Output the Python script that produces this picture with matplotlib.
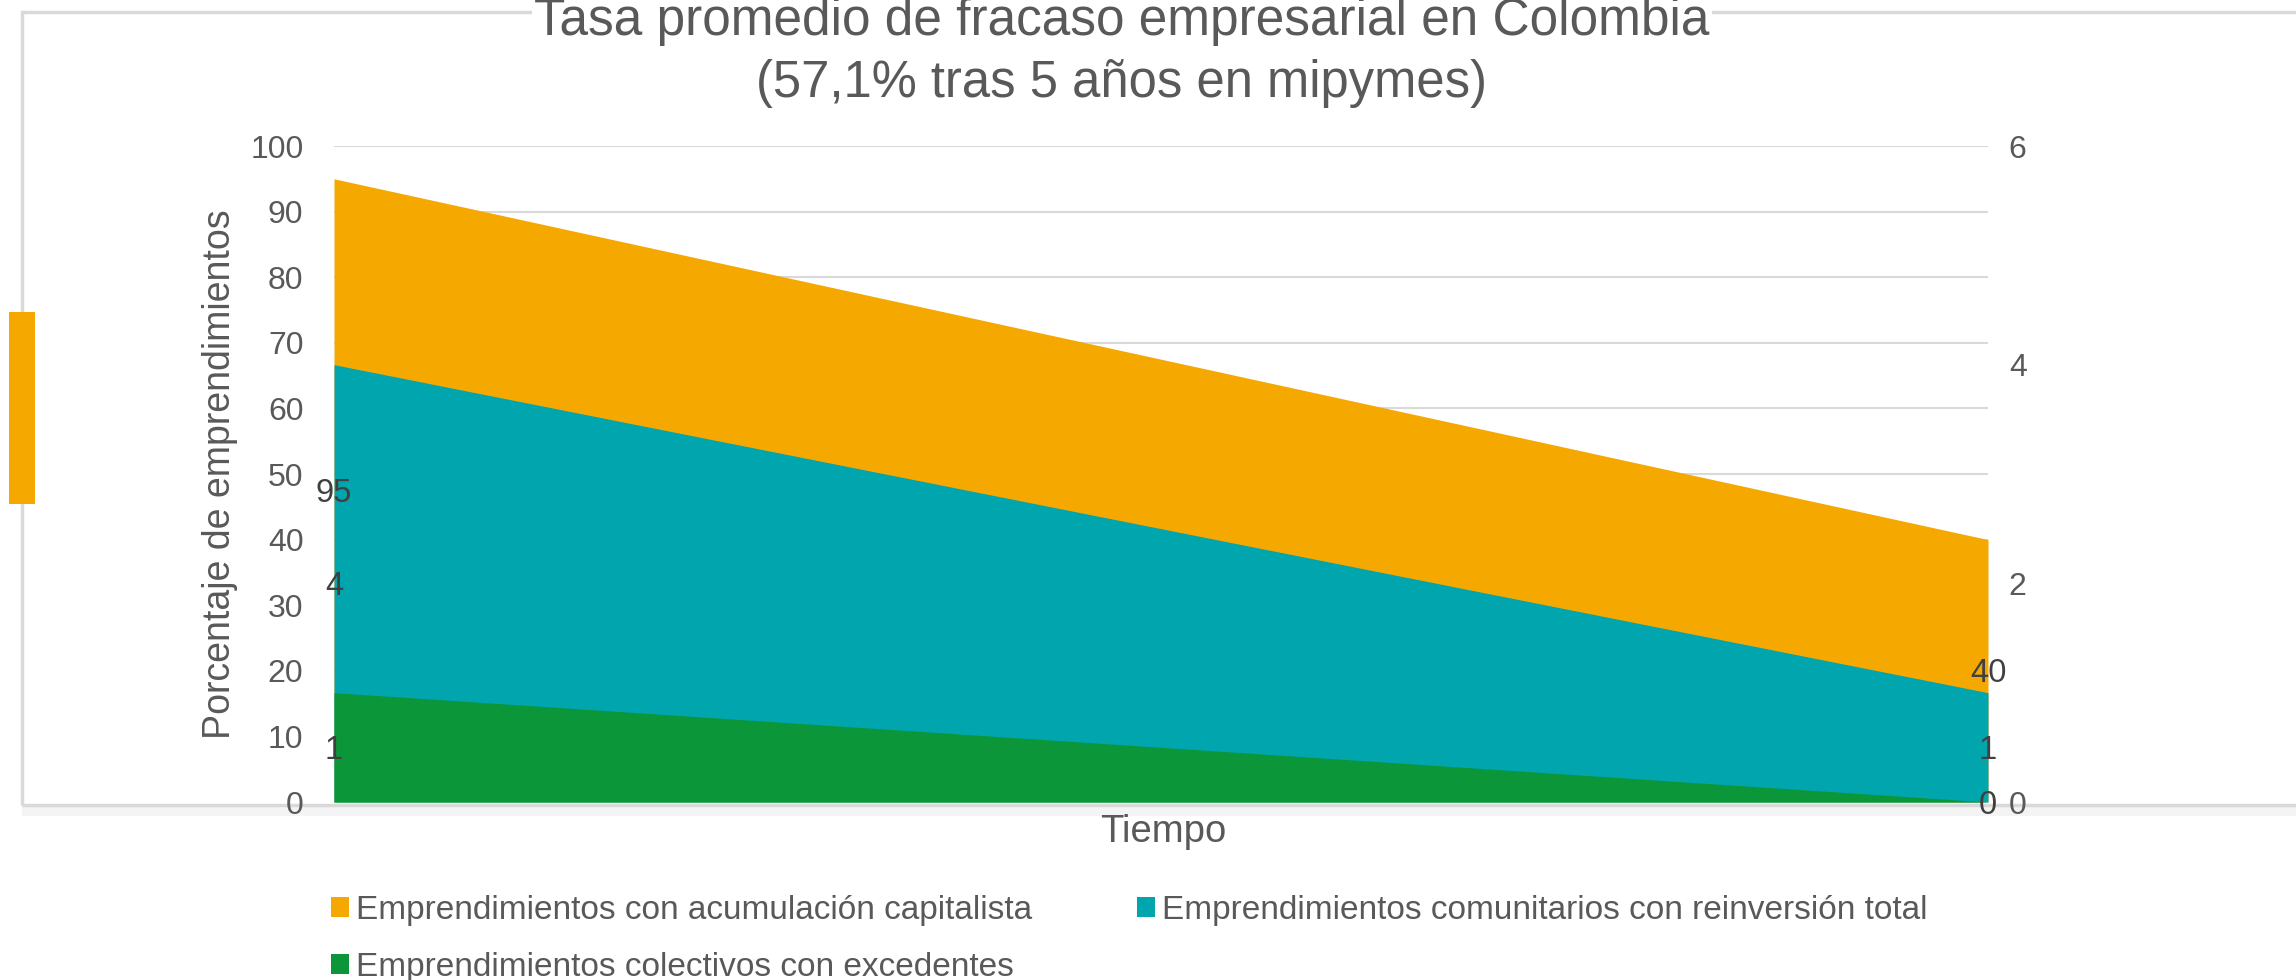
import matplotlib
matplotlib.use('Agg')
import matplotlib.pyplot as plt
from matplotlib.patches import Rectangle

plt.rcParams['font.family'] = ['Liberation Sans', 'DejaVu Sans']

# ---- data ----
periods = [0, 1]                      # inicio -> 5 años
capitalista = [95, 40]                # primary axis
comunitarios = [4, 1]                 # secondary axis
colectivos = [1, 0]                   # secondary axis
series_names = ["Emprendimientos con acumulación capitalista",
                "Emprendimientos comunitarios con reinversión total",
                "Emprendimientos colectivos con excedentes"]
left_ticks = list(range(0, 101, 10))
right_ticks = [0, 2, 4, 6]
title_lines = ["Tasa promedio de fracaso empresarial en Colombia",
               "(57,1% tras 5 años en mipymes)"]
ylabel = "Porcentaje de emprendimientos"
xlabel = "Tiempo"

c_orange = "#F5A800"
c_teal = "#00A5AE"
c_green = "#0A9639"
c_text = "#595959"
c_lab = "#404040"
c_grid = "#D9D9D9"

W, H = 2296, 980
fig = plt.figure(figsize=(W / 100, H / 100), dpi=100)
fig.patch.set_facecolor("white")

# faint shadow under bottom border
fig.patches.append(Rectangle((22 / W, 1 - 816 / H), 1.0, 11 / H,
                             transform=fig.transFigure, facecolor="#F4F4F4",
                             edgecolor='none', zorder=-2))
# chart border box
fig.patches.append(Rectangle((22 / W, 1 - 805 / H), 1.0, (805 - 12) / H,
                             transform=fig.transFigure, fill=False,
                             edgecolor=c_grid, lw=2.5, zorder=-1))
# orange marker at left
fig.patches.append(Rectangle((9 / W, 1 - 504 / H), 26 / W, 192 / H,
                             transform=fig.transFigure, facecolor=c_orange,
                             edgecolor='none', zorder=-1))

x0, x1, y0, y1 = 334, 1988, 146, 802
ax = fig.add_axes([x0 / W, 1 - y1 / H, (x1 - x0) / W, (y1 - y0) / H])
ax.set_facecolor('none')
ax.fill_between(periods, 0, capitalista, color=c_orange, lw=0, zorder=2)
ax.set_xlim(periods[0], periods[-1])
ax.set_ylim(0, 100)
ax.set_yticks(left_ticks)
ax.set_xticks([])
ax.grid(axis='y', color=c_grid, lw=1.5)
ax.set_axisbelow(True)
for s in ax.spines.values():
    s.set_visible(False)
ax.tick_params(axis='y', length=0, pad=22, labelsize=23, labelcolor=c_text)

ax2 = ax.twinx()
ax2.fill_between(periods, 0, comunitarios, color=c_teal, lw=0)
ax2.fill_between(periods, 0, colectivos, color=c_green, lw=0)
ax2.set_ylim(0, 6)
ax2.set_yticks(right_ticks)
for s in ax2.spines.values():
    s.set_visible(False)
ax2.tick_params(axis='y', length=0, pad=15, labelsize=23, labelcolor=c_text)

# data labels (centered at half the value, as in the source)
lab_fs = 23.5
dy = -0.716 * lab_fs / 2


def put_label(x, y, s, trans):
    ax2.annotate(s, (x, y), xycoords=trans, xytext=(0, dy),
                 textcoords='offset points', ha='center', va='baseline',
                 fontsize=lab_fs, color=c_lab, annotation_clip=False)


for x, v in zip(periods, capitalista):
    put_label(x, v / 2, str(v), ax.transData)
for x, v in zip(periods, comunitarios):
    put_label(x, v / 2, str(v), ax2.transData)
for x, v in zip(periods, colectivos):
    put_label(x, v / 2, str(v), ax2.transData)

# titles
fig.text(1122 / W, 1 - 35 / H, title_lines[0], ha='center', va='baseline',
         fontsize=37, color=c_text,
         bbox=dict(facecolor='white', edgecolor='none', pad=2))
fig.text(1122 / W, 1 - 97 / H, title_lines[1], ha='center', va='baseline',
         fontsize=36.5, color=c_text)
fig.text(220 / W, 1 - 474 / H, ylabel, rotation=90, ha='center', va='center',
         fontsize=27, color=c_text)
fig.text(1163 / W, 1 - 832 / H, xlabel, ha='center', va='center',
         fontsize=27.5, color=c_text)

handles = [Rectangle((0, 0), 1, 1, facecolor=c, edgecolor='none')
           for c in (c_orange, c_teal, c_green)]
# ncol=2 fills column-wise; reorder so rows read orange, teal / green
order = [0, 2, 1]
fig.legend([handles[i] for i in order], [series_names[i] for i in order],
           loc='upper left', bbox_to_anchor=(331 / W, 1 - 895 / H), ncol=2,
           frameon=False, fontsize=24, labelcolor=c_text, handlelength=0.55,
           handleheight=0.55, handletextpad=0.2, columnspacing=3.15,
           borderpad=0, borderaxespad=0, labelspacing=0.78)

fig.savefig("out.png", dpi=100)
